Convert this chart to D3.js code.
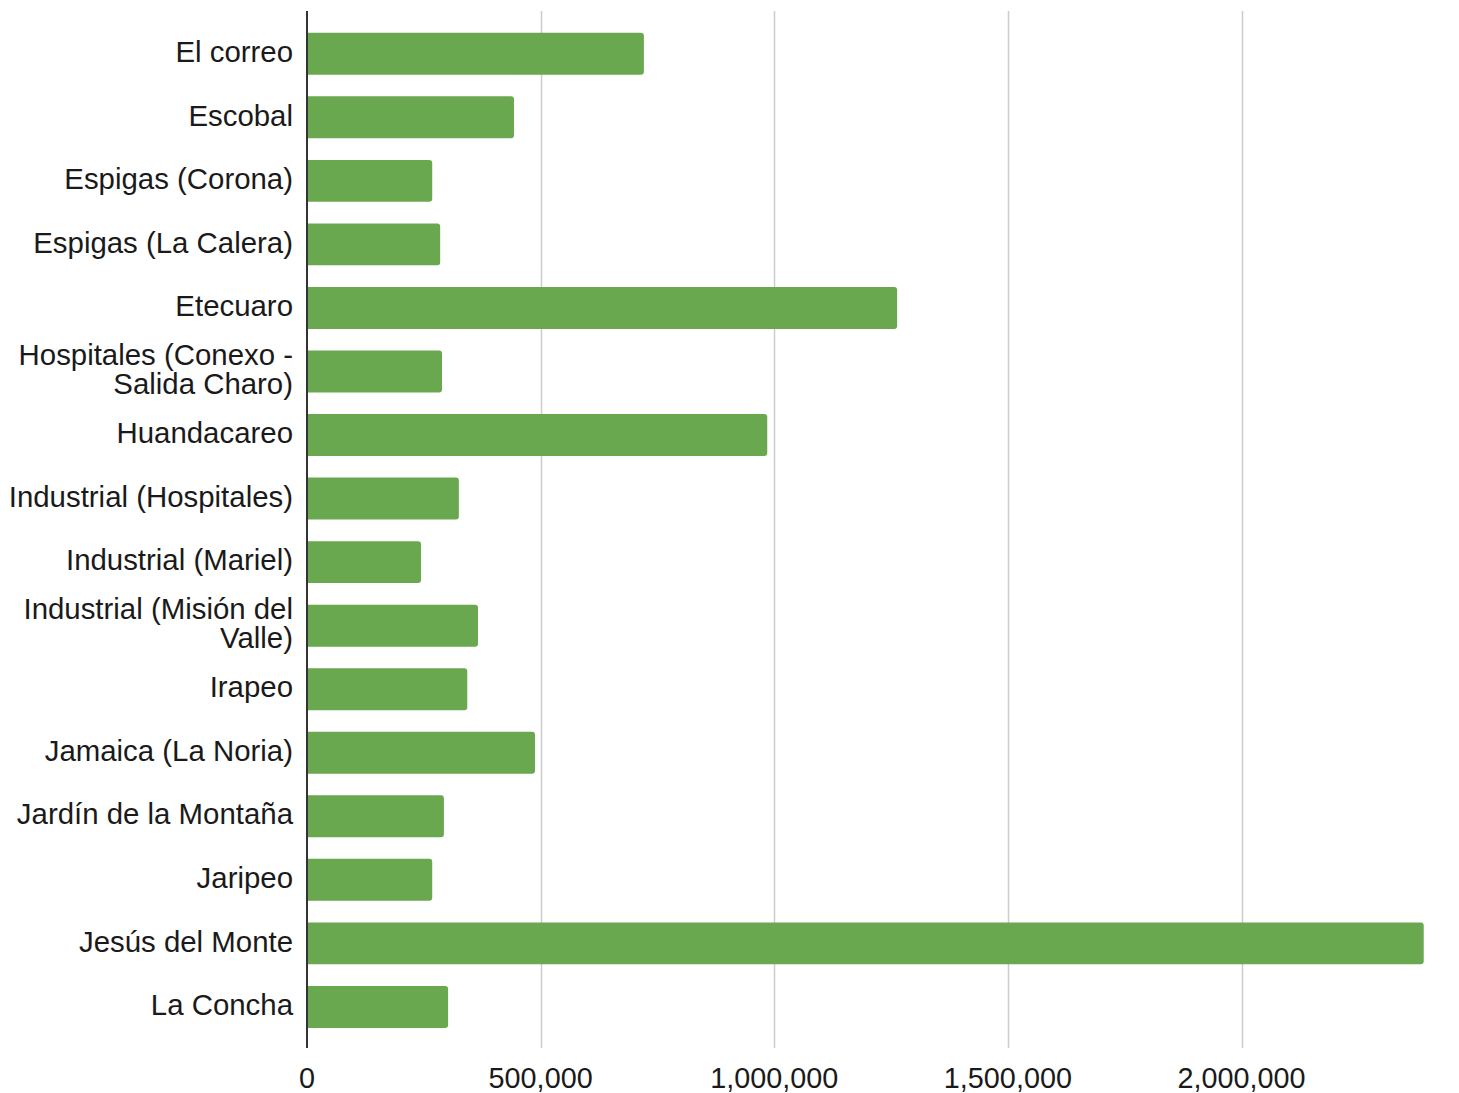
<!DOCTYPE html>
<html>
<head>
<meta charset="utf-8">
<script src="https://cdn.jsdelivr.net/npm/d3@7"></script>
<style>
  html, body { margin: 0; padding: 0; background: #fff; }
  svg { display: block; }
</style>
</head>
<body>
<svg id="chart" width="1459" height="1093"></svg>
<script>
const categories = [
  "El correo", "Escobal", "Espigas (Corona)", "Espigas (La Calera)", "Etecuaro",
  "Hospitales (Conexo - Salida Charo)", "Huandacareo", "Industrial (Hospitales)",
  "Industrial (Mariel)", "Industrial (Misión del Valle)", "Irapeo", "Jamaica (La Noria)",
  "Jardín de la Montaña", "Jaripeo", "Jesús del Monte", "La Concha"
];
const values = [
  721000, 443000, 268000, 285000, 1263000,
  289000, 985000, 325000,
  244000, 366000, 343000, 488000,
  293000, 268000, 2390000, 302000
];
const tickValues = [0, 500000, 1000000, 1500000, 2000000];

const svg = d3.select("#chart");
const font = "'Liberation Sans', Arial, sans-serif";
const fontSize = 29.4;
const tickFontSize = 28.8;

const x = d3.scaleLinear().domain([0, 2400000]).range([307, 1428.4]);
const y = d3.scaleBand().domain(categories).range([22, 1038.7]).paddingInner(0.34).paddingOuter(0.17);

const gridTop = 11, gridBottom = 1048;

// gridlines
svg.append("g").selectAll("line")
  .data(tickValues.filter(d => d > 0))
  .join("line")
  .attr("x1", d => Math.round(x(d)) + 0.5)
  .attr("x2", d => Math.round(x(d)) + 0.5)
  .attr("y1", gridTop).attr("y2", gridBottom)
  .attr("stroke", "#cccccc").attr("stroke-width", 1.5);

// bars with rounded right corners
const r = 3;
svg.append("g").selectAll("path")
  .data(categories.map((c, i) => ({c, v: values[i]})))
  .join("path")
  .attr("fill", "#6aa84f")
  .attr("d", d => {
    const x0 = x(0), x1 = x(d.v), y0 = y(d.c), h = y.bandwidth();
    const p = d3.path();
    p.moveTo(x0, y0);
    p.lineTo(x1 - r, y0);
    p.arcTo(x1, y0, x1, y0 + r, r);
    p.lineTo(x1, y0 + h - r);
    p.arcTo(x1, y0 + h, x1 - r, y0 + h, r);
    p.lineTo(x0, y0 + h);
    p.closePath();
    return p.toString();
  });

// axis line
svg.append("line")
  .attr("x1", x(0)).attr("x2", x(0))
  .attr("y1", gridTop).attr("y2", gridBottom)
  .attr("stroke", "#333").attr("stroke-width", 2);

// x tick labels
const fmt = d3.format(",");
svg.append("g").selectAll("text")
  .data(tickValues)
  .join("text")
  .attr("x", d => x(d))
  .attr("y", 1088)
  .attr("text-anchor", "middle")
  .attr("font-family", font)
  .attr("font-size", tickFontSize)
  .attr("fill", "#1a1a1a")
  .text(d => fmt(d));

// y labels with wrapping
const maxW = 292;
const measure = svg.append("text").attr("font-family", font).attr("font-size", fontSize).attr("visibility", "hidden");
function textWidth(s) { measure.text(s); return measure.node().getComputedTextLength(); }
function wrap(s) {
  const words = s.split(" ");
  const lines = [];
  let cur = "";
  words.forEach(w => {
    const t = cur ? cur + " " + w : w;
    if (cur && textWidth(t) > maxW) { lines.push(cur); cur = w; }
    else cur = t;
  });
  if (cur) lines.push(cur);
  return lines;
}
const lineH = 29;
const labels = svg.append("g");
categories.forEach(c => {
  const lines = wrap(c);
  const cy = y(c) + y.bandwidth() / 2;
  const t = labels.append("text")
    .attr("text-anchor", "end")
    .attr("font-family", font)
    .attr("font-size", fontSize)
    .attr("fill", "#1a1a1a");
  lines.forEach((l, i) => {
    t.append("tspan")
      .attr("x", 293)
      .attr("y", cy + (i - (lines.length - 1) / 2) * lineH - 1.5)
      .attr("dy", "0.33em")
      .text(l);
  });
});
measure.remove();
</script>
</body>
</html>
